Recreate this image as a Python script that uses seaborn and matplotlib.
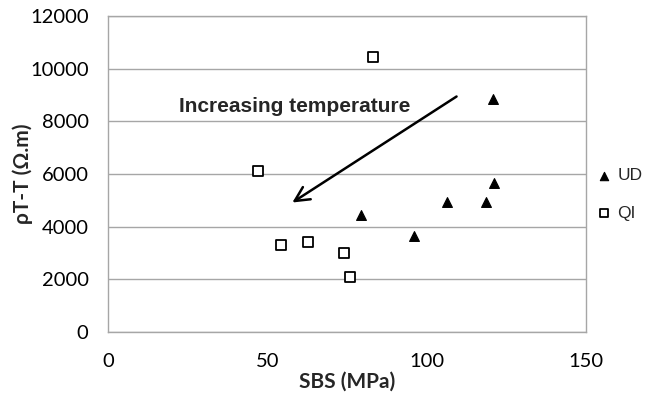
import numpy as np
import pandas as pd
import matplotlib
matplotlib.use('Agg')
import matplotlib.pyplot as plt
import seaborn as sns

# Dados
ud_sbs = [120.8, 121.2, 106.3, 118.6, 79.4, 96.1]
ud_rho = [8850, 5650, 4950, 4950, 4450, 3650]
qi_sbs = [83.2, 47.1, 54.2, 62.7, 74.0, 75.9]
qi_rho = [10450, 6100, 3300, 3400, 3000, 2100]

df_ud = pd.DataFrame({'SBS': ud_sbs, 'rho': ud_rho})
df_qi = pd.DataFrame({'SBS': qi_sbs, 'rho': qi_rho})

sns.set_style('white')
plt.rcParams['font.family'] = ['Lato', 'DejaVu Sans']

fig = plt.figure(figsize=(6.57, 3.97), dpi=100)
ax = fig.add_axes([0.1644, 0.1637, 0.7276, 0.796])

sns.scatterplot(data=df_ud, x='SBS', y='rho', marker='^', s=50, color='black',
                edgecolor='black', linewidth=0.8, ax=ax, label='UD', zorder=3)
sns.scatterplot(data=df_qi, x='SBS', y='rho', marker='s', s=45, facecolor='white',
                edgecolor='black', linewidth=1.3, ax=ax, label='QI', zorder=3)

ax.set_xlim(0, 150)
ax.set_ylim(0, 12000)
ax.set_xticks([0, 50, 100, 150])
ax.set_yticks(range(0, 12001, 2000))
ax.yaxis.grid(True, color='#a6a6a6', linewidth=1)
ax.xaxis.grid(False)
ax.set_axisbelow(True)
for s in ax.spines.values():
    s.set_color('#a6a6a6')
    s.set_linewidth(1)
ax.tick_params(axis='both', length=0, labelsize=14.5, colors='black')
ax.tick_params(axis='x', pad=15)
ax.tick_params(axis='y', pad=14)

ax.set_xlabel('SBS (MPa)', fontsize=15, fontweight='bold')
ax.set_ylabel('ρT-T (Ω.m)', fontsize=15, fontweight='bold')
ax.xaxis.set_label_coords(0.5, -0.125)
ax.yaxis.set_label_coords(-0.157, 0.5)

# Seta e texto
ax.annotate('', xy=(57.1, 4860), xytext=(110.1, 9000),
            arrowprops=dict(arrowstyle='->', color='black', lw=1.8, mutation_scale=26))
ax.text(22.3, 8545, 'Increasing temperature', fontsize=15, fontweight='bold',
        family=['Liberation Sans'], va='center', ha='left')

leg = ax.legend(loc='center left', bbox_to_anchor=(1.022, 0.435), frameon=False,
                borderaxespad=0, borderpad=0, handlelength=0.8, handletextpad=0.4,
                labelspacing=1.3, markerscale=0.85,
                prop={'family': 'Liberation Sans', 'size': 12.5})

fig.savefig('out.png', dpi=100)
